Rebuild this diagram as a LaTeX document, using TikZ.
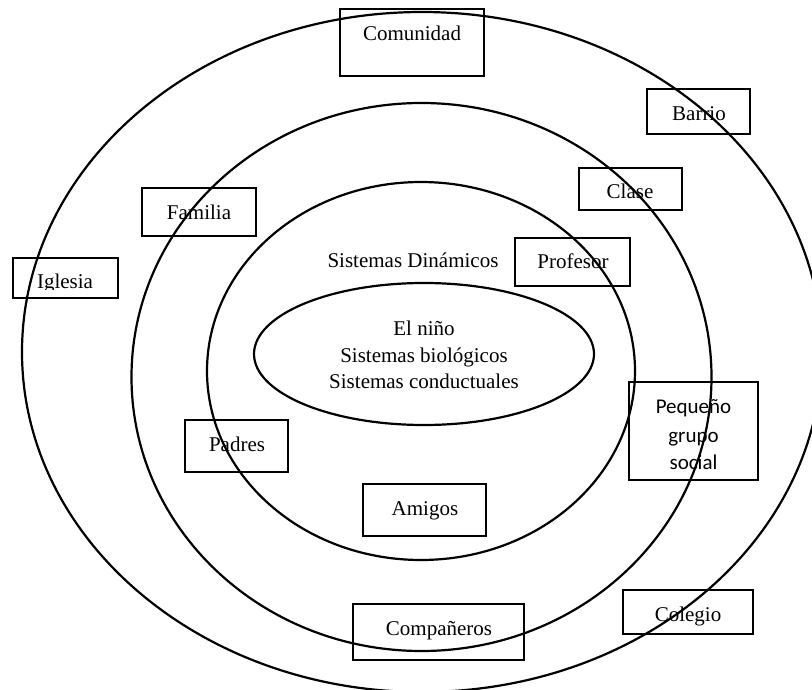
\documentclass[tikz,border=0pt]{standalone}
\usepackage{fontspec}
\setmainfont{Liberation Serif}
\newfontfamily\calfont{Carlito}
\begin{document}
\begin{tikzpicture}[x=1pt,y=-1pt,
  ring/.style={draw=black, line width=2.2pt},
  tbox/.style={draw=black, line width=2.2pt, rectangle, inner sep=0pt},
  lbl/.style={inner sep=0pt, anchor=base, font=\fontsize{21}{26}\selectfont},
  clbl/.style={inner sep=0pt, anchor=base, font=\calfont\fontsize{21}{26}\selectfont},
]
\useasboundingbox (0,0) rectangle (812,690);
\fill[white] (0,0) rectangle (812,690);

% boxes
\node[tbox, minimum width=144pt, minimum height=67pt] (comunidad) at (412,42.5) {};
\node[tbox, minimum width=103pt, minimum height=45pt] (barrio) at (698.5,111.5) {};
\node[tbox, minimum width=103pt, minimum height=42pt] (clase) at (630.5,189) {};
\node[tbox, minimum width=115pt, minimum height=48pt] (profesor) at (572.5,262) {};
\node[tbox, minimum width=114pt, minimum height=48pt] (familia) at (199,212) {};
\node[tbox, minimum width=105pt, minimum height=40pt] (iglesia) at (65.5,278) {};
\node[tbox, minimum width=103pt, minimum height=52pt] (padres) at (236.5,446) {};
\node[tbox, minimum width=123pt, minimum height=52pt] (amigos) at (424.5,510) {};
\node[tbox, minimum width=171pt, minimum height=56pt] (companeros) at (438.5,632) {};
\node[tbox, minimum width=129pt, minimum height=98pt] (pequeno) at (693.5,431) {};
\node[tbox, minimum width=130pt, minimum height=44pt] (colegio) at (688,612) {};

% labels
\node[lbl] (comunidad-t) at (412,41) {Comunidad};
\node[lbl] (barrio-t) at (699,121) {Barrio};
\node[lbl] (clase-t) at (630,199) {Clase};
\node[lbl] (profesor-t) at (573,269) {Profesor};
\node[lbl] (familia-t) at (199,220) {Familia};
\begin{scope}
  \clip (13,258) rectangle (118,289);
  \node[lbl] (iglesia-t) at (65,288) {Iglesia};
\end{scope}
\node[lbl] (padres-t) at (237,451) {Padres};
\node[lbl] (amigos-t) at (425,515) {Amigos};
\node[lbl] (companeros-t) at (439,635) {Compañeros};
\node[lbl] (colegio-t) at (688,621) {Colegio};
\node[clbl] (pequeno-t1) at (693.5,413) {Pequeño};
\node[clbl] (pequeno-t2) at (693.5,442) {grupo};
\node[clbl] (pequeno-t3) at (693.5,469) {social};
\node[lbl] (dinamicos-t) at (413,267) {Sistemas Dinámicos};
\node[lbl] (nino-t1) at (424,335) {El niño};
\node[lbl] (nino-t2) at (424,362) {Sistemas biológicos};
\node[lbl] (nino-t3) at (424,388) {Sistemas conductuales};

% rings
\draw[ring] (422,352) ellipse [x radius=400pt, y radius=340pt];
\draw[ring] (421.5,377) ellipse [x radius=290pt, y radius=274pt];
\draw[ring] (421,371) ellipse [x radius=214pt, y radius=189pt];
\draw[ring] (424,354) ellipse [x radius=170pt, y radius=71pt];
\end{tikzpicture}
\end{document}
